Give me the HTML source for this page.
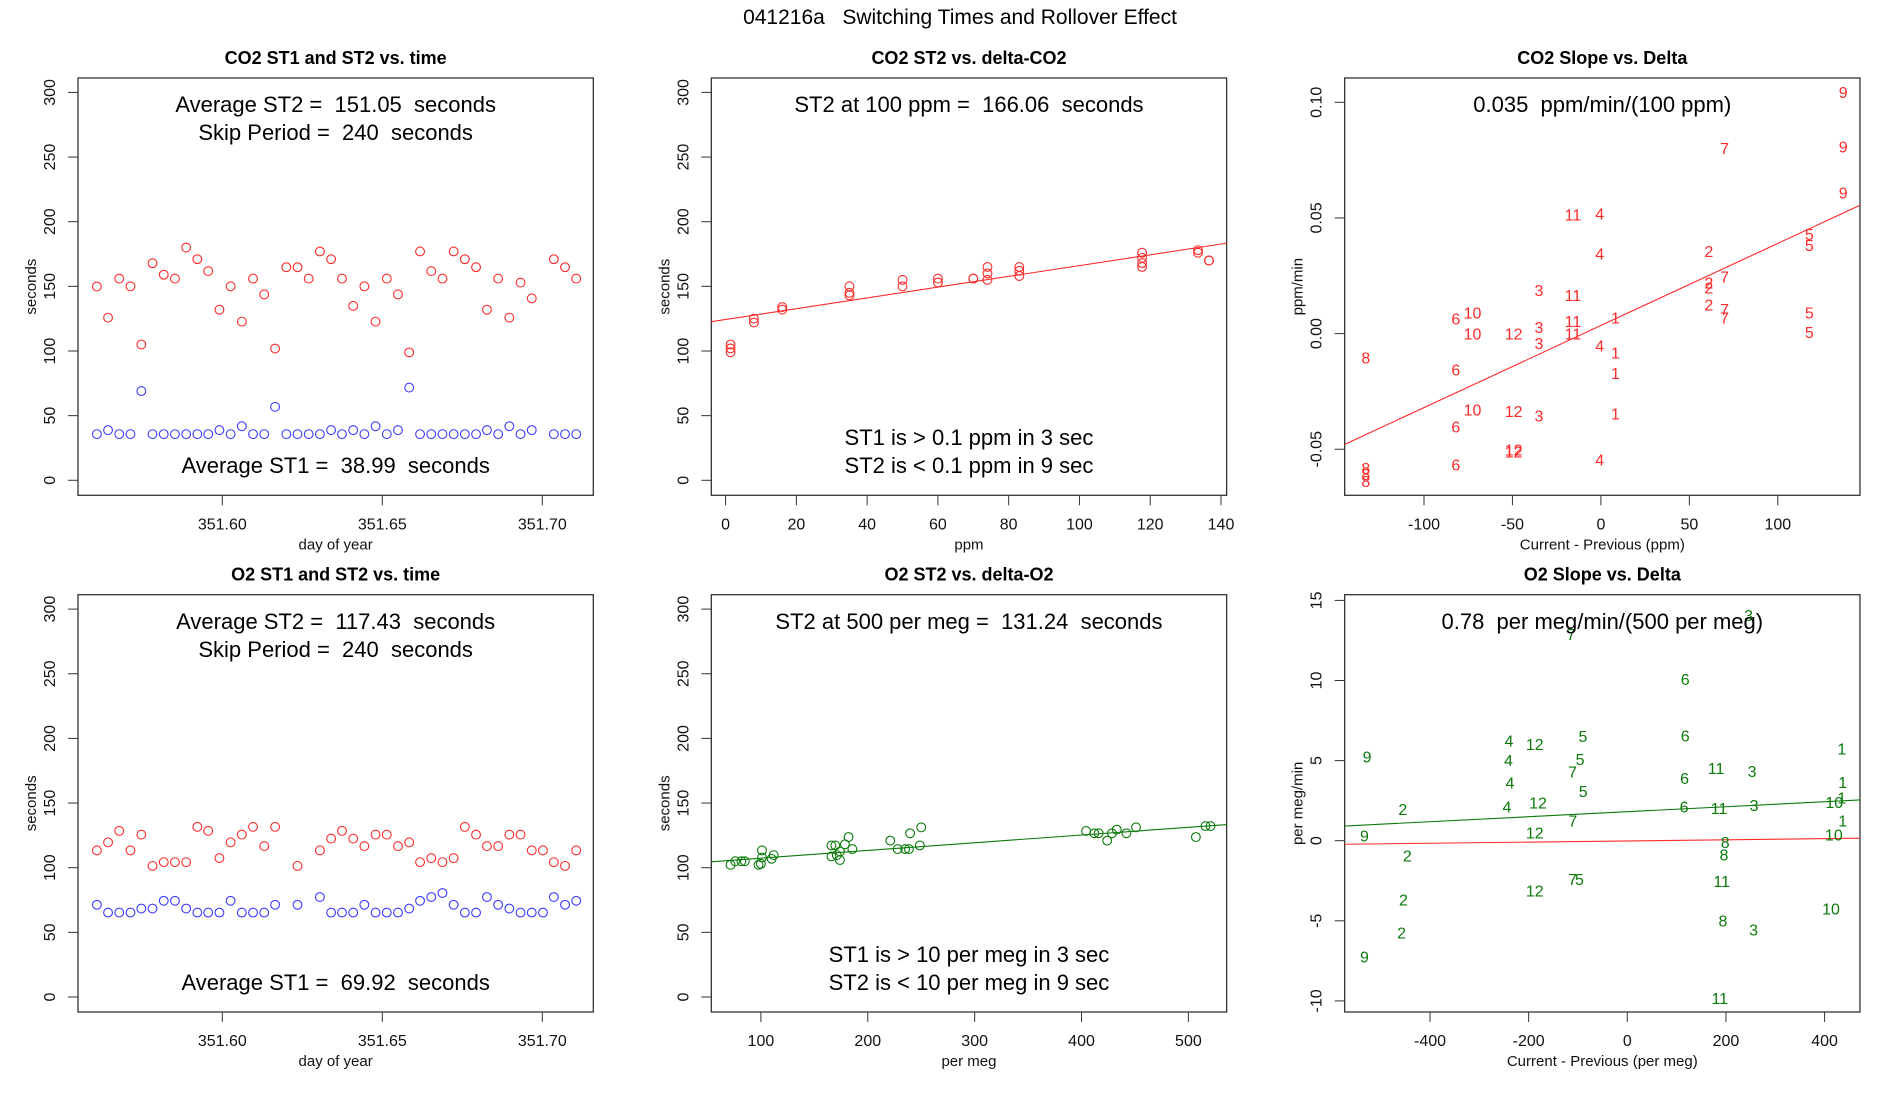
<!DOCTYPE html>
<html><head><meta charset="utf-8">
<style>
html,body{margin:0;padding:0;background:#fff;}
svg{display:block;font-family:"Liberation Sans",Arial,sans-serif;}
svg text{white-space:pre;}
</style></head>
<body>
<svg id="chart" width="1900" height="1100" viewBox="0 0 1900 1100" xmlns="http://www.w3.org/2000/svg">
<rect x="0" y="0" width="1900" height="1100" fill="#fff"/>
<text x="960" y="24" font-size="21" text-anchor="middle" fill="#000" xml:space="preserve">041216a   Switching Times and Rollover Effect</text>
</svg>
<script>
// ---------- Panel 1/4 data: time series ----------
const co2Times = [351.5608,351.5643,351.5678,351.5713,351.5747,351.5782,351.5817,351.5852,351.5887,351.5922,351.5956,351.5991,351.6026,351.6061,351.6096,351.6131,351.6165,351.6200,351.6235,351.6270,351.6305,351.6340,351.6374,351.6409,351.6444,351.6479,351.6514,351.6549,351.6584,351.6618,351.6653,351.6688,351.6723,351.6758,351.6793,351.6827,351.6862,351.6897,351.6932,351.6967,351.7036,351.7071,351.7106];
const co2ST2 = [149.9,125.8,156,150,105,167.9,159,156,180,171,161.8,131.9,150,122.7,156,143.8,101.9,164.8,164.8,156,177,171,156,134.9,150,122.7,156,143.8,98.9,177,161.8,156,177,171,164.8,131.9,156,125.8,152.9,140.7,171,164.8,156];
const co2ST1 = [35.7,38.8,35.7,35.7,69,35.7,35.7,35.7,35.7,35.7,35.7,38.8,35.7,41.8,35.7,35.7,56.8,35.7,35.7,35.7,35.7,38.8,35.7,38.8,35.7,41.8,35.7,38.8,71.7,35.7,35.7,35.7,35.7,35.7,35.7,38.8,35.7,41.8,35.7,38.8,35.7,35.7,35.7];
const o2Times = [351.5608,351.5643,351.5678,351.5713,351.5747,351.5782,351.5817,351.5852,351.5887,351.5922,351.5956,351.5991,351.6026,351.6061,351.6096,351.6131,351.6165,351.6235,351.6305,351.6340,351.6374,351.6409,351.6444,351.6479,351.6514,351.6549,351.6584,351.6618,351.6653,351.6688,351.6723,351.6758,351.6793,351.6827,351.6862,351.6897,351.6932,351.6967,351.7002,351.7036,351.7071,351.7106];
const o2ST2 = [113.4,119.6,128.5,113.4,125.6,101.4,104.3,104.3,104.3,131.6,128.5,107.4,119.6,125.6,131.6,116.7,131.6,101.4,113.4,122.5,128.5,122.5,116.7,125.6,125.6,116.7,119.6,104.3,107.4,104.3,107.4,131.6,125.6,116.7,116.7,125.6,125.6,113.4,113.4,104.3,101.4,113.4];
const o2ST1 = [71.3,65.3,65.3,65.3,68.4,68.4,74.4,74.4,68.4,65.3,65.3,65.3,74.4,65.3,65.3,65.3,71.3,71.3,77.3,65.3,65.3,65.3,71.3,65.3,65.3,65.3,68.4,74.4,77.3,80.4,71.3,65.3,65.3,77.3,71.3,68.4,65.3,65.3,65.3,77.3,71.3,74.4];
const timeTicks = [351.60,351.65,351.70];
const timeTickLabels = ["351.60","351.65","351.70"];
const secTicks = [0,50,100,150,200,250,300];
// ---------- Panel 2: CO2 ST2 vs delta ----------
const co2Delta = [1.4,1.4,1.4,8,8,16,16,35,35,35,50,50,60,60,70,70,74,74,74,83,83,83,117.7,117.7,117.7,117.7,133.5,133.5,136.6,136.6];
const co2DeltaST2 = [105,102,99,125,122,134,132,150,143,145,155,150,156,153,156,156,165,160,155,165,162,158,176,172,168,165,178,176,170,170];
const co2Fit = [124.4,0.4166];
const ppmTicks = [0,20,40,60,80,100,120,140];
// ---------- Panel 3: CO2 slope vs delta ----------
const co2SlopeX = [137,69.9,137,137,-15.8,-0.7,117.8,117.8,61,-0.7,69.9,61,61,-35,-15.8,61,69.9,-72.6,-82,117.8,8.2,69.9,-15.8,-35,-72.6,-49.3,-15.8,117.8,-35,-0.7,8.2,-132.9,-82,8.2,-72.6,-49.3,-35,8.2,-82,-49.3,-49.3,-0.7,-82,-132.9,-132.9,-132.9];
const co2SlopeY = [0.1044,0.0803,0.0808,0.0609,0.0515,0.052,0.0431,0.0384,0.0357,0.0346,0.0246,0.022,0.0199,0.0188,0.0167,0.0125,0.0106,0.0091,0.0065,0.0091,0.007,0.007,0.0054,0.0028,0.0001,0.0001,0.0001,0.0007,-0.004,-0.0051,-0.0082,-0.0103,-0.0155,-0.0171,-0.0329,-0.0334,-0.0355,-0.0345,-0.0402,-0.05,-0.051,-0.0544,-0.0565,-0.0581,-0.0607,-0.0638];
const co2SlopeLab = ["9","7","9","9","11","4","5","5","2","4","7","2","2","3","11","2","7","10","6","5","1","7","11","3","10","12","11","5","3","4","1","8","6","1","10","12","3","1","6","12","12","4","6","8","8","8"];
const co2SlopeFit = [0.0035,0.000355];
const dPpmTicks = [-100,-50,0,50,100];
const slopeTicks = [-0.05,0,0.05,0.10];
const slopeTickLabels = ["-0.05","0.00","0.05","0.10"];
// ---------- Panel 5: O2 ST2 vs delta ----------
const o2Delta = [71.6,76,81.8,85,97.8,100,101,101,110,112,166,166,169.6,171,174,174,178.6,182,185.6,221,228,235,238.5,239.6,248.7,250,404.3,412,416,424,428.5,433,442,451,507,516,520.7];
const o2DeltaST2 = [102.2,105,105,105,102.2,103,107.8,113.4,106.9,109.7,108.7,117.2,117.2,109.7,105.9,112.5,118.1,123.7,114.4,120.9,114.4,114.4,114.4,126.6,117.2,131.2,128.4,126.6,126.6,120.9,126.6,129.4,126.6,131.2,123.7,132.2,132.2];
const o2Fit = [101.39,0.0597];
const megTicks = [100,200,300,400,500];
// ---------- Panel 6: O2 slope vs delta ----------
const o2SlopeX = [246,-114,117.5,-90,-240,-187.5,117.5,435,-527.6,-241,-95.7,-111,180,253,116,-238,436.6,-89.5,-181,-244,419.5,435,115,186,257,-455,-110.5,436.6,-533,-187.5,418.7,198.4,-446,196,-111,-97,191.4,-187.5,-453.7,413,193.8,256,-457.6,-533,187.5];
const o2SlopeY = [14.1,12.9,10.09,6.54,6.27,6.05,6.56,5.74,5.27,5.04,5.09,4.33,4.53,4.35,3.9,3.62,3.66,3.1,2.37,2.14,2.43,2.7,2.12,2.03,2.23,1.99,1.25,1.25,0.33,0.51,0.38,-0.09,-0.92,-0.87,-2.39,-2.39,-2.5,-3.1,-3.66,-4.22,-4.98,-5.54,-5.74,-7.23,-9.82];
const o2SlopeLab = ["3","7","6","5","4","12","6","1","9","4","5","7","11","3","6","4","1","5","12","4","10","1","6","11","3","2","7","1","9","12","10","8","2","8","7","5","11","12","2","10","8","3","2","9","11"];
const o2SlopeFit = [1.81,0.00156];
const o2RefFit = [-0.015,0.000359];
const dMegTicks = [-400,-200,0,200,400];
const o2SlopeTicks = [-10,-5,0,5,10,15];

const NS = "http://www.w3.org/2000/svg";
const svg = document.getElementById("chart");
function mk(tag, attrs, parent) {
  const e = document.createElementNS(NS, tag);
  for (const k in attrs) e.setAttribute(k, attrs[k]);
  (parent || svg).appendChild(e);
  return e;
}
const BW = 515.3, BH = 417.3;
function linScale(v0, p0, v1, p1) { const m = (p1 - p0) / (v1 - v0); const f = v => p0 + (v - v0) * m; f.inv = p => v0 + (p - p0) / m; return f; }

function panel(id, col, row, title, xs, ys, xt, xtl, yt, ytl, xlab, ylab) {
  const x0 = 78 + 633.33 * col, y0 = 78 + 516.7 * row;
  const g = mk("g", {});
  
  
  const cp = mk("clipPath", {id: id + "-clip"}, g);
  mk("rect", {x: x0, y: y0, width: BW, height: BH}, cp);
  const t = mk("text", {x: x0 + BW / 2, y: y0 - 14, "font-size": 18, "font-weight": "bold", "text-anchor": "middle"}, g);
  t.textContent = title;
  
  
  const box = mk("rect", {x: x0, y: y0, width: BW, height: BH, fill: "none", stroke: "#333", "stroke-width": 1.3}, g);
  
  
  const by = y0 + BH;
  xt.forEach((v, i) => {
    const px = xs(v);
    const tk = mk("line", {x1: px, x2: px, y1: by, y2: by + 10, stroke: "#333", "stroke-width": 1}, g);
    
    
    const tl = mk("text", {x: px, y: by + 34, "font-size": 16, "text-anchor": "middle", fill: "#111"}, g);
    tl.textContent = xtl[i];
    
    
  });
  yt.forEach((v, i) => {
    const py = ys(v);
    const tk = mk("line", {x1: x0 - 10, x2: x0, y1: py, y2: py, stroke: "#333", "stroke-width": 1}, g);
    
    
    const tl = mk("text", {x: x0 - 23, y: py, "font-size": 16, "text-anchor": "middle", fill: "#111", transform: "rotate(-90 " + (x0 - 23) + " " + py + ")"}, g);
    tl.textContent = ytl[i];
    
    
  });
  const xl = mk("text", {x: x0 + BW / 2, y: by + 54, "font-size": 15, "text-anchor": "middle", fill: "#111"}, g);
  xl.textContent = xlab;
  
  
  const ly = y0 + BH / 2, lx = x0 - 42;
  const yl = mk("text", {x: lx, y: ly, "font-size": 15, "text-anchor": "middle", fill: "#111", transform: "rotate(-90 " + lx + " " + ly + ")"}, g);
  yl.textContent = ylab;
  
  
  const data = mk("g", {"clip-path": "url(#" + id + "-clip)"}, g);
  
  
  return {g, data, x0, y0};
}
function circles(p, xsArr, ysArr, xs, ys, color, name) {
  xsArr.forEach((v, i) => {
    const c = mk("circle", {cx: xs(v), cy: ys(ysArr[i]), r: 4.4, fill: "none", stroke: color, "stroke-width": 1.1}, p.data);
    
    
  });
}
function labels(p, xsArr, ysArr, labs, xs, ys, color) {
  xsArr.forEach((v, i) => {
    const t = mk("text", {x: xs(v), y: ys(ysArr[i]) + 6, "font-size": 16, "text-anchor": "middle", fill: color}, p.data);
    t.textContent = labs[i];
    
    
  });
}
function fitLine(p, fit, xs, ys, color, name) {
  const a = xs.inv(p.x0 - 2), b = xs.inv(p.x0 + BW + 2);
  const l = mk("line", {x1: xs(a), y1: ys(fit[0] + fit[1] * a), x2: xs(b), y2: ys(fit[0] + fit[1] * b), stroke: color, "stroke-width": 1.1}, p.data);
  
  
}
function note(p, lines, ysPos) {
  lines.forEach((s, i) => {
    const t = mk("text", {x: p.x0 + BW / 2, y: ysPos[i], "font-size": 22, "text-anchor": "middle", fill: "#000"}, p.g);
    t.setAttributeNS("http://www.w3.org/XML/1998/namespace", "xml:space", "preserve");
    t.textContent = s;
    
    
  });
}
const secLabels = secTicks.map(String);
const RED = "#ff2a2a", BLUE = "#3a3aff", GREEN = "#0b7a0b";

// Panel 1
const p1x = linScale(351.60, 222.3, 351.65, 382.3), p1y = linScale(0, 480.3, 300, 92.4);
const p1 = panel("panel-co2-time", 0, 0, "CO2 ST1 and ST2 vs. time", p1x, p1y, timeTicks, timeTickLabels, secTicks, secLabels, "day of year", "seconds");
circles(p1, co2Times, co2ST2, p1x, p1y, RED, "st2-point");
circles(p1, co2Times, co2ST1, p1x, p1y, BLUE, "st1-point");
note(p1, ["Average ST2 =  151.05  seconds", "Skip Period =  240  seconds", "Average ST1 =  38.99  seconds"], [112, 140, 473]);

// Panel 2
const p2x = linScale(0, 725.6, 140, 1221), p2y = p1y;
const p2 = panel("panel-co2-st2-delta", 1, 0, "CO2 ST2 vs. delta-CO2", p2x, p2y, ppmTicks, ppmTicks.map(String), secTicks, secLabels, "ppm", "seconds");
circles(p2, co2Delta, co2DeltaST2, p2x, p2y, RED, "st2-delta-point");
fitLine(p2, co2Fit, p2x, p2y, RED, "regression-line");
note(p2, ["ST2 at 100 ppm =  166.06  seconds", "ST1 is > 0.1 ppm in 3 sec", "ST2 is < 0.1 ppm in 9 sec"], [112, 445, 473]);

// Panel 3
const p3x = linScale(-100, 1424, 100, 1777.8), p3y = linScale(0, 333.6, 0.1, 102.3);
const p3 = panel("panel-co2-slope", 2, 0, "CO2 Slope vs. Delta", p3x, p3y, dPpmTicks, dPpmTicks.map(String), slopeTicks, slopeTickLabels, "Current - Previous (ppm)", "ppm/min");
labels(p3, co2SlopeX, co2SlopeY, co2SlopeLab, p3x, p3y, RED);
fitLine(p3, co2SlopeFit, p3x, p3y, RED, "regression-line");
note(p3, ["0.035  ppm/min/(100 ppm)"], [112]);

// Panel 4
const p4y = linScale(0, 997, 300, 609.1);
const p4 = panel("panel-o2-time", 0, 1, "O2 ST1 and ST2 vs. time", p1x, p4y, timeTicks, timeTickLabels, secTicks, secLabels, "day of year", "seconds");
circles(p4, o2Times, o2ST2, p1x, p4y, RED, "st2-point");
circles(p4, o2Times, o2ST1, p1x, p4y, BLUE, "st1-point");
note(p4, ["Average ST2 =  117.43  seconds", "Skip Period =  240  seconds", "Average ST1 =  69.92  seconds"], [629, 657, 990]);

// Panel 5
const p5x = linScale(100, 760.9, 500, 1188.4);
const p5 = panel("panel-o2-st2-delta", 1, 1, "O2 ST2 vs. delta-O2", p5x, p4y, megTicks, megTicks.map(String), secTicks, secLabels, "per meg", "seconds");
circles(p5, o2Delta, o2DeltaST2, p5x, p4y, GREEN, "st2-delta-point");
fitLine(p5, o2Fit, p5x, p4y, GREEN, "regression-line");
note(p5, ["ST2 at 500 per meg =  131.24  seconds", "ST1 is > 10 per meg in 3 sec", "ST2 is < 10 per meg in 9 sec"], [629, 962, 990]);

// Panel 6
const p6x = linScale(-400, 1430, 400, 1824.6), p6y = linScale(0, 840.7, 15, 600.4);
const p6 = panel("panel-o2-slope", 2, 1, "O2 Slope vs. Delta", p6x, p6y, dMegTicks, dMegTicks.map(String), o2SlopeTicks, o2SlopeTicks.map(String), "Current - Previous (per meg)", "per meg/min");
fitLine(p6, o2SlopeFit, p6x, p6y, GREEN, "regression-line");
fitLine(p6, o2RefFit, p6x, p6y, RED, "reference-line");
labels(p6, o2SlopeX, o2SlopeY, o2SlopeLab, p6x, p6y, GREEN);
note(p6, ["0.78  per meg/min/(500 per meg)"], [629]);
</script>
</body></html>
